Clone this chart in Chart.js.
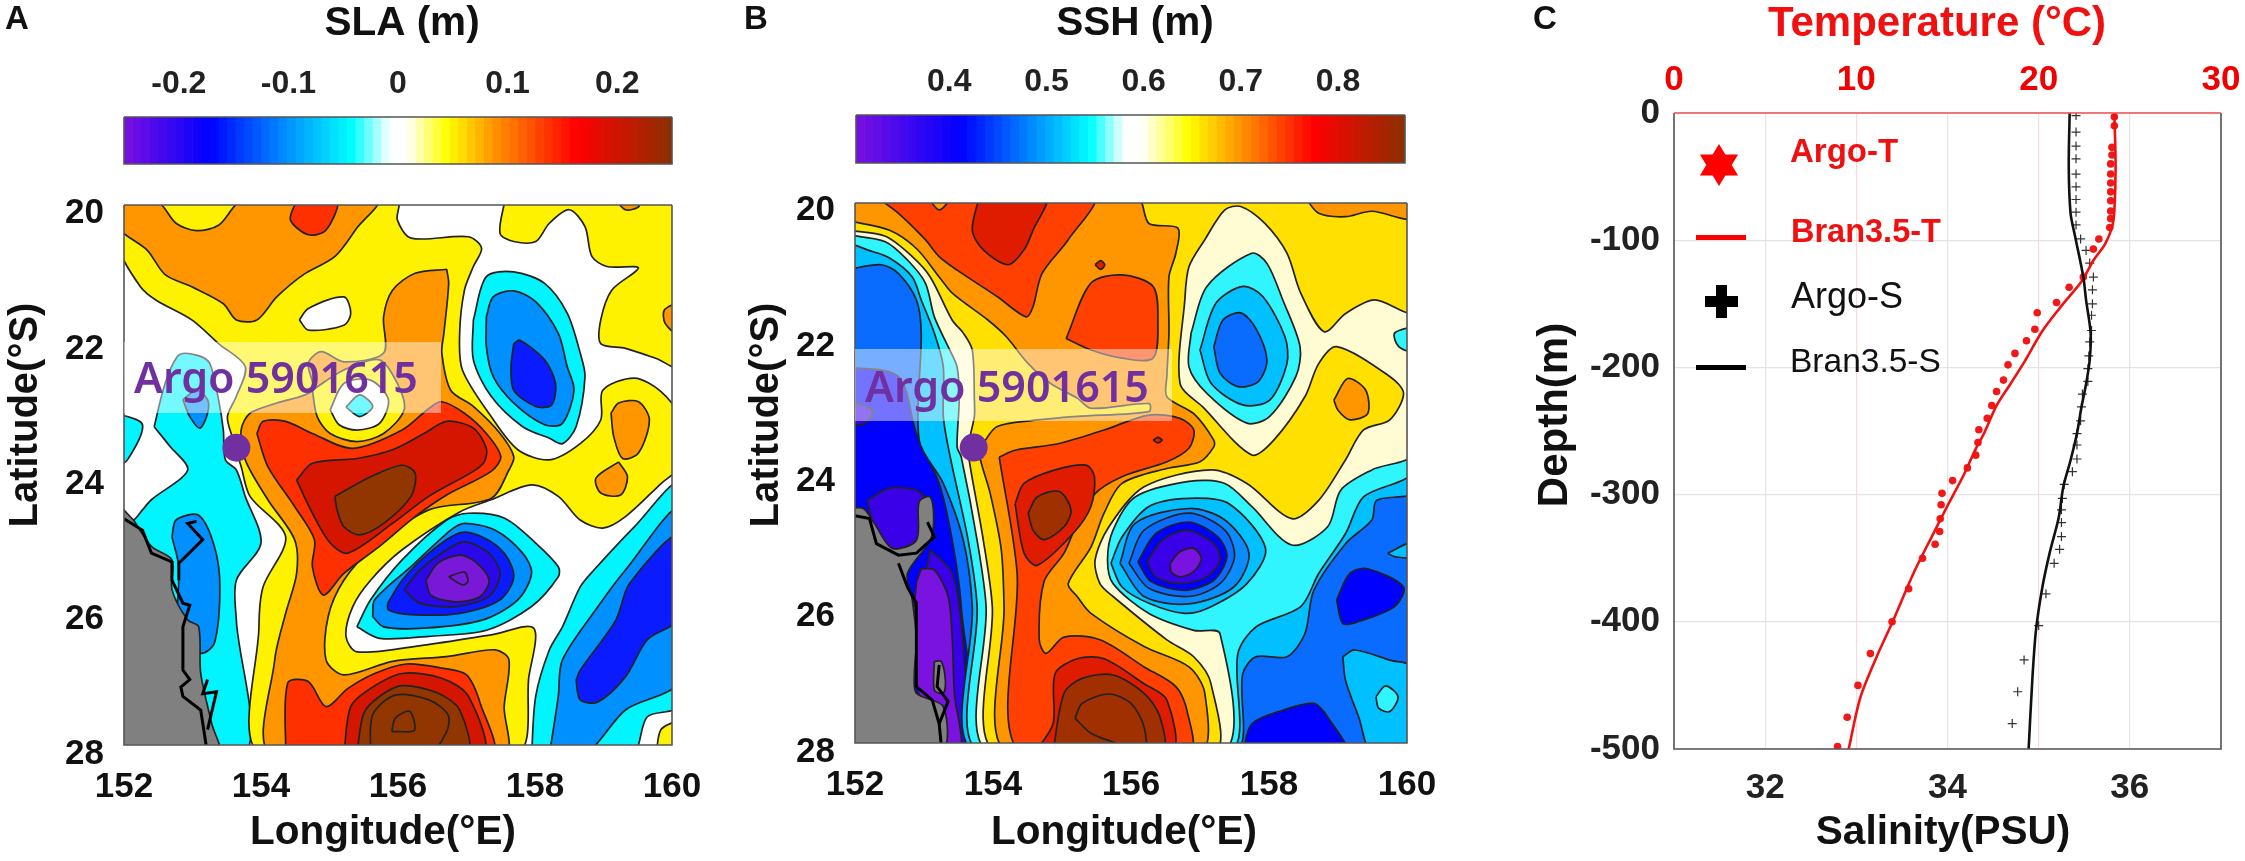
<!DOCTYPE html>
<html><head><meta charset="utf-8">
<script src="https://cdn.jsdelivr.net/npm/chart.js@4"></script>
<style>html,body{margin:0;padding:0;background:#fff;width:2245px;height:861px;overflow:hidden}
canvas{position:absolute;filter:blur(0.7px)}</style></head><body>
<script>
// ---------- axis values ----------
const lonTicks=[152,154,156,158,160];
const latTicks=[20,22,24,26,28];
const slaBarTicks=[-0.2,-0.1,0,0.1,0.2];
const sshBarTicks=[0.4,0.5,0.6,0.7,0.8];
const salinityTicks=[32,34,36];
const temperatureTicks=[0,10,20,30];
const depthTicks=[0,-100,-200,-300,-400,-500];
// ---------- colour map stops (fraction, colour) ----------
const slaStops=[[0,'#7a10e0'],[0.155,'#0000ff'],[0.28,'#0080ff'],[0.416,'#00ffff'],[0.47,'#c8ffff'],[0.485,'#ffffff'],[0.515,'#ffffff'],[0.588,'#ffff00'],[0.67,'#ff9900'],[0.825,'#ff0000'],[1,'#8b3000']];
const sshStops=[[0,'#7a10e0'],[0.19,'#0000ff'],[0.31,'#0080ff'],[0.427,'#00ffff'],[0.475,'#c8ffff'],[0.49,'#ffffff'],[0.52,'#ffffff'],[0.605,'#ffff00'],[0.695,'#ff9900'],[0.833,'#ff0000'],[1,'#8b3000']];
// ---------- panel C profiles [value, depth] ----------
const argoT=[[24.15,-3],[24.15,-10],[24.02,-27],[24.02,-33],[23.95,-40],[23.95,-48],[23.95,-55],[23.95,-62],[23.95,-69],[23.95,-77],[23.95,-83],[23.9,-90],[23.3,-99],[23.0,-107],[22.45,-129],[21.67,-137],[20.98,-149],[19.92,-157],[19.79,-170],[19.33,-179],[18.7,-189],[18.32,-198],[18.07,-210],[17.69,-219],[17.43,-230],[17.18,-240],[16.72,-249],[16.67,-259],[16.55,-269],[16.09,-279],[15.28,-289],[14.7,-299],[14.65,-308],[14.6,-319],[14.57,-329],[14.32,-339],[13.63,-350],[12.87,-374],[11.96,-400],[10.77,-425],[10.09,-450],[9.5,-475],[8.97,-498]];
const branT=[[24.15,0],[24.22,-42],[24.15,-77],[24.02,-90],[23.64,-103],[23.0,-116],[22.37,-132],[21.23,-152],[20.22,-171],[19.2,-196],[18.45,-213],[17.69,-230],[17.0,-252],[16.55,-264],[15.91,-284],[15.03,-308],[14.14,-333],[13.13,-362],[11.99,-400],[11.1,-428],[10.21,-460],[9.58,-500]];
const argoS=[[35.41,-2],[35.41,-15],[35.41,-26],[35.41,-36],[35.41,-48],[35.41,-58],[35.41,-68],[35.41,-78],[35.41,-88],[35.46,-99],[35.52,-108],[35.56,-118],[35.6,-129],[35.59,-139],[35.59,-150],[35.58,-159],[35.58,-171],[35.56,-180],[35.55,-191],[35.54,-201],[35.54,-211],[35.48,-221],[35.47,-231],[35.46,-242],[35.42,-252],[35.42,-261],[35.42,-272],[35.37,-282],[35.28,-292],[35.26,-303],[35.25,-312],[35.25,-322],[35.25,-333],[35.23,-343],[35.17,-354],[35.08,-378],[35.0,-403],[34.84,-430],[34.77,-455],[34.71,-480]];
const branS=[[35.34,0],[35.33,-42],[35.35,-79],[35.4,-97],[35.49,-129],[35.52,-147],[35.57,-173],[35.56,-194],[35.52,-213],[35.47,-231],[35.42,-252],[35.35,-273],[35.27,-294],[35.22,-318],[35.12,-346],[35.04,-373],[34.97,-407],[34.93,-446],[34.89,-500]];
// ---------- Argo float position ----------
const argoPosA=[[153.64,23.46]];
const argoPosB=[[153.72,23.5]];
// ---------- panel A contours [lon, lat] ----------
const aYellowMain=[[151.9,19.8],[155.99,19.8],[155.99,20.09],[156.19,20.36],[157.03,20.34],[157.22,20.51],[157.10,20.78],[156.97,21.13],[156.90,21.77],[156.94,22.31],[157.36,23.0],[157.75,23.49],[158.21,23.64],[158.66,23.40],[158.96,23.05],[158.99,22.61],[159.45,22.43],[159.84,22.63],[160.1,23.0],[160.1,23.74],[159.84,23.99],[159.32,24.48],[158.99,24.65],[158.66,24.53],[158.34,24.18],[157.95,24.01],[157.36,24.23],[156.90,24.41],[156.06,24.97],[155.60,25.42],[155.34,25.81],[155.24,26.25],[155.40,26.48],[156.38,26.38],[157.36,26.23],[157.98,26.13],[157.91,26.85],[157.72,28],[154.0,28],[153.97,26.11],[154.03,25.52],[154.36,24.78],[153.84,24.18],[153.71,23.74],[153.58,23.30],[153.51,23.0],[153.64,22.70],[153.77,22.26],[153.38,21.92],[152.99,21.57],[152.47,21.28],[152.24,21.08],[151.9,20.46]];
const aYellowTR=[[157.56,19.8],[157.49,20.29],[157.69,20.41],[158.01,20.41],[158.21,20.14],[158.50,19.94],[158.73,20.19],[158.83,20.63],[159.05,20.78],[159.51,20.80],[159.12,21.13],[158.96,21.57],[158.96,21.92],[159.32,21.99],[159.77,22.14],[160.1,22.26],[160.1,19.8]];
const aYellowBR=[[159.77,28],[159.84,27.63],[160.1,27.53],[160.1,28]];
const aWhiteSpot=[[154.56,21.57],[154.69,21.40],[155.21,21.23],[155.31,21.47],[155.21,21.65],[154.69,21.72]];
const aOrangeNW=[[151.9,19.8],[152.47,19.8],[152.76,20.14],[153.06,20.25],[153.38,20.17],[153.74,19.8],[155.70,19.8],[155.40,20.21],[155.08,20.63],[154.62,20.90],[154.23,21.23],[153.94,21.57],[153.64,21.57],[153.45,21.33],[152.99,21.08],[152.60,20.9],[152.34,20.54],[151.9,20.19]];
const aRedTop=[[154.52,19.8],[154.43,20.09],[154.69,20.31],[154.95,20.24],[155.11,19.8]];
const aOrangeTR=[[159.18,19.8],[159.32,19.94],[159.51,19.9],[159.52,19.8]];
const aOrangeCenter=[[156.71,20.82],[156.74,21.03],[156.67,21.77],[156.64,22.06],[156.77,22.61],[157.10,22.85],[157.49,23.25],[157.69,23.59],[157.62,23.79],[157.36,24.21],[156.45,24.38],[155.66,24.92],[155.21,25.42],[154.98,25.96],[154.95,26.60],[155.21,26.82],[155.92,26.62],[156.71,26.55],[157.42,26.45],[157.62,26.60],[157.55,27.29],[157.55,28],[154.16,28],[154.20,26.60],[154.36,25.91],[154.52,25.32],[154.49,24.82],[154.10,24.23],[153.77,23.64],[153.71,23.20],[153.84,22.95],[154.23,22.80],[154.75,22.61],[154.69,22.21],[154.88,22.04],[155.21,22.19],[155.79,22.06],[155.79,21.52],[155.92,21.13],[156.25,20.88]];
const aYellowHole=[[154.75,22.61],[155.21,22.31],[155.73,22.16],[155.99,22.51],[156.09,22.90],[155.79,23.25],[155.40,23.37],[155.01,23.25],[154.82,23.0]];
const aWhiteHole=[[155.01,22.90],[155.21,22.51],[155.60,22.46],[155.86,22.75],[155.73,23.10],[155.40,23.20],[155.14,23.12]];
const aCyanDiamond=[[155.24,22.86],[155.44,22.68],[155.63,22.85],[155.44,23.0]];
const aOrangeR1=[[159.11,22.95],[159.22,22.80],[159.51,22.78],[159.67,23.05],[159.51,23.54],[159.28,23.62],[159.15,23.30]];
const aOrangeR2=[[159.22,23.67],[159.35,23.89],[159.25,24.16],[158.96,24.13],[158.89,23.91]];
const aOrangeR3=[[160.1,21.3],[159.89,21.42],[159.90,21.62],[160.1,21.79]];
const aRedMain=[[153.94,23.25],[154.03,23.07],[154.36,23.07],[154.75,23.25],[155.34,23.47],[156.06,23.20],[156.45,22.88],[156.64,22.78],[156.97,22.95],[157.29,23.25],[157.50,23.59],[157.36,23.81],[156.71,24.16],[156.25,24.48],[155.73,24.92],[155.21,25.32],[154.91,25.64],[154.75,25.22],[154.78,24.82],[154.49,24.33],[154.10,23.74]];
const aRedSouth=[[154.36,28],[154.39,26.94],[154.69,26.92],[154.95,27.29],[155.27,27.02],[155.66,26.80],[156.12,26.66],[156.64,26.72],[157.0,26.82],[157.20,27.24],[157.36,28]];
const aDarkMain=[[154.52,23.94],[154.75,23.69],[155.40,23.62],[155.92,23.49],[156.38,23.25],[156.71,23.07],[157.10,23.17],[157.29,23.47],[157.26,23.67],[157.10,23.81],[156.45,24.18],[155.92,24.58],[155.27,25.02],[155.01,24.87],[154.75,24.43]];
const aDarkSouth=[[155.21,28],[155.31,27.29],[155.60,27.02],[156.06,26.80],[156.64,26.87],[157.03,27.14],[157.23,28]];
const aBrownMain=[[155.08,24.18],[155.60,23.89],[156.06,23.72],[156.25,23.84],[156.19,24.18],[155.79,24.58],[155.44,24.75],[155.21,24.63],[155.11,24.38]];
const aBrownSouth=[[155.40,28],[155.50,27.39],[155.73,27.14],[156.06,26.98],[156.58,27.09],[156.90,27.34],[157.0,28]];
const aBrownSouth2=[[155.60,28],[155.63,27.41],[155.96,27.12],[156.45,27.19],[156.73,27.41],[156.71,27.66],[156.45,28]];
const aBrownSouth3=[[155.91,27.66],[155.96,27.46],[156.17,27.36],[156.24,27.64],[155.99,27.66]];
const aE1Cyan=[[157.10,21.57],[157.29,20.93],[157.69,20.86],[158.14,21.03],[158.47,21.47],[158.66,22.06],[158.73,22.41],[158.60,23.15],[158.40,23.40],[158.21,23.32],[157.82,23.15],[157.36,22.70],[157.10,22.16]];
const aE1Azure=[[157.29,21.52],[157.39,21.23],[157.69,21.14],[158.01,21.30],[158.34,21.77],[158.47,22.26],[158.57,22.61],[158.40,23.10],[158.14,23.12],[157.69,22.80],[157.39,22.41],[157.29,21.97]];
const aE1Blue=[[157.69,21.92],[157.78,21.87],[158.14,22.16],[158.30,22.51],[158.24,22.83],[158.01,22.85],[157.69,22.61],[157.65,22.26]];
const aE2Cyan=[[155.40,26.11],[155.60,25.71],[156.06,25.12],[156.71,24.53],[157.03,24.43],[157.55,24.50],[158.01,24.87],[158.34,25.22],[158.34,25.37],[157.95,25.81],[157.29,26.16],[156.45,26.25],[155.73,26.28]];
const aE2Azure=[[155.63,25.96],[155.66,25.71],[156.19,25.22],[156.77,24.68],[156.97,24.58],[157.42,24.68],[157.82,25.02],[157.95,25.32],[157.75,25.71],[157.23,26.01],[156.38,26.13],[155.79,26.11]];
const aE2Blue=[[155.85,25.76],[156.06,25.42],[156.45,25.02],[156.90,24.72],[157.23,24.78],[157.55,25.02],[157.69,25.37],[157.49,25.71],[156.90,25.91],[156.19,25.93],[155.86,25.86]];
const aE2Deep=[[156.09,25.56],[156.32,25.27],[156.71,24.97],[156.97,24.85],[157.33,25.02],[157.49,25.32],[157.33,25.66],[156.84,25.81],[156.32,25.76]];
const aE2Purple=[[156.41,25.42],[156.58,25.17],[156.90,25.05],[157.13,25.15],[157.33,25.42],[157.20,25.66],[156.84,25.74],[156.48,25.64]];
const aE2Core=[[156.74,25.37],[156.97,25.30],[157.02,25.44],[156.94,25.49]];
const aCyanE=[[157.95,28],[158.01,27.14],[158.21,26.45],[158.40,26.11],[158.66,25.52],[158.86,25.27],[159.45,24.63],[160.1,24.01],[160.1,27.27],[159.64,27.44],[159.41,28]];
const aAzureE=[[158.21,28],[158.34,27.14],[158.40,26.60],[158.92,25.81],[159.32,25.27],[160.1,24.38],[160.1,26.90],[159.32,27.34],[158.73,28]];
const aBlueE=[[158.60,26.90],[158.66,26.75],[159.18,26.01],[159.38,25.47],[160.1,24.75],[160.1,25.98],[159.64,26.30],[159.32,26.85],[158.92,27.22],[158.66,27.19]];
const aCyanW=[[152.44,23.15],[152.60,22.51],[152.80,22.09],[153.06,22.09],[153.25,22.21],[153.38,22.75],[153.45,23.20],[153.48,23.64],[153.64,23.79],[153.77,24.18],[154.0,24.87],[153.64,25.42],[153.64,26.01],[153.76,28],[151.9,28],[151.9,24.6],[152.14,24.53],[152.27,24.38],[152.40,24.23],[152.93,23.79],[152.67,23.44]];
const aCyanEdge=[[151.9,22.95],[152.27,23.12],[152.05,23.64],[151.9,23.7]];
const aAzureLens=[[152.86,22.75],[153.06,22.61],[153.22,22.75],[153.22,22.95],[153.11,23.17],[152.96,23.0]];
const aAzureW=[[152.70,24.78],[152.76,24.53],[153.09,24.46],[153.32,24.92],[153.40,25.52],[153.32,26.35],[153.12,26.50],[152.80,26.21],[152.80,25.22]];
const aLand=[[152.14,24.53],[152.40,24.92],[152.70,25.12],[152.70,25.56],[152.93,26.01],[153.09,26.11],[153.12,26.80],[153.28,27.54],[153.38,28],[151.9,28],[151.9,24.33]];
const aCoast1=[[152.0,24.51],[152.27,24.68],[152.40,25.02],[152.70,25.15],[152.70,25.42],[152.86,25.76],[152.96,25.79],[152.86,26.11],[152.86,26.75],[152.96,26.89],[152.83,27.0],[152.86,27.14],[153.12,27.34],[153.22,28]];
const aCoast2=[[152.80,25.42],[152.80,25.17],[153.15,24.82],[152.93,24.58],[153.06,24.55]];
const aCoast3=[[153.22,26.89],[153.15,27.1],[153.35,27.07],[153.22,27.63]];
// ---------- panel B contours [lon, lat] ----------
const bBase=[[151.9,19.8],[160.1,19.8],[160.1,28],[151.9,28]];
const bAzure=[[151.9,20.87],[151.9,19.8],[160.1,19.8],[160.1,24.13],[159.56,24.28],[159.49,24.57],[159.11,24.92],[158.65,25.61],[158.52,26.25],[158.26,26.59],[157.81,26.59],[157.62,26.84],[157.49,28],[153.73,28],[153.70,25.85],[153.57,24.87],[153.28,24.03],[152.93,23.39],[152.96,21.81],[152.89,21.32],[152.63,20.93],[152.38,20.80]];
const bCyan=[[151.9,20.47],[151.9,19.8],[160.1,19.8],[160.1,23.81],[159.37,24.23],[159.11,24.77],[158.72,25.36],[158.46,25.85],[157.81,26.15],[157.55,26.54],[157.42,28],[153.80,28],[153.77,25.85],[153.64,24.87],[153.38,23.64],[153.28,23.04],[153.28,22.31],[153.15,21.81],[152.96,21.32],[152.83,20.98],[152.50,20.70],[152.18,20.58]];
const bPale=[[151.9,20.36],[151.9,19.8],[160.1,19.8],[160.1,23.56],[159.49,23.83],[159.04,24.13],[158.85,24.67],[158.33,24.94],[157.75,24.37],[157.36,24.03],[156.84,24.0],[156.06,24.23],[155.74,24.72],[155.66,25.16],[155.74,25.51],[156.26,25.95],[156.91,26.2],[157.29,26.25],[157.33,28],[153.93,28],[153.90,25.85],[153.77,24.87],[153.54,23.64],[153.48,23.49],[153.51,22.80],[153.48,22.31],[153.35,22.01],[153.15,21.57],[153.02,21.07],[152.76,20.73],[152.44,20.46]];
const bGold=[[151.9,20.29],[151.9,19.8],[160.1,19.8],[160.1,21.49],[159.53,21.32],[159.11,21.52],[158.80,21.79],[158.46,21.22],[158.26,20.63],[157.94,20.19],[157.59,19.94],[157.36,19.99],[157.07,20.43],[156.84,20.83],[156.78,21.32],[156.71,22.55],[157.04,22.90],[157.75,23.61],[158.07,23.39],[158.52,22.75],[158.72,22.26],[158.98,22.01],[159.75,22.45],[159.95,22.70],[159.75,23.09],[159.37,23.24],[159.11,23.68],[158.72,24.28],[158.33,24.55],[157.68,24.03],[157.16,23.83],[156.19,24.08],[155.68,24.67],[155.48,25.16],[155.55,25.51],[155.74,25.70],[156.52,26.34],[156.91,26.59],[157.16,26.99],[157.20,28],[154.03,28],[153.99,25.85],[153.86,24.87],[153.67,23.78],[153.64,23.49],[153.73,23.04],[153.73,22.80],[153.70,22.06],[153.57,21.81],[153.41,21.62],[153.09,20.98],[152.83,20.68],[152.44,20.38]];
const bOrange=[[151.9,20.15],[151.9,19.8],[156.08,19.8],[156.26,20.19],[156.68,20.26],[156.65,20.63],[156.55,20.98],[156.55,21.81],[156.52,22.45],[156.52,22.75],[156.91,23.0],[157.20,23.39],[157.20,23.49],[157.0,23.71],[156.52,23.81],[155.87,24.03],[155.61,24.47],[155.42,24.97],[155.09,25.51],[155.22,25.70],[155.42,25.95],[156.19,26.44],[156.84,26.74],[157.07,27.13],[157.0,28],[154.19,28],[154.16,25.85],[154.12,25.01],[153.96,24.18],[153.80,23.59],[153.86,23.44],[154.06,23.19],[154.58,23.10],[155.22,23.04],[156.26,22.97],[156.26,22.85],[155.42,22.92],[155.22,22.77],[154.83,22.55],[154.51,22.26],[154.19,21.86],[153.93,21.62],[153.41,21.22],[153.22,20.98],[152.89,20.56],[152.50,20.29]];
const bOrangeTR=[[158.52,19.8],[158.72,20.04],[159.11,20.09],[159.49,20.01],[160.1,20.13],[160.1,19.8]];
const bOrangeSpot=[[158.94,22.80],[159.14,22.48],[159.40,22.65],[159.43,23.0],[159.17,23.09],[159.0,22.95]];
const bCyanEdge=[[160.1,21.71],[159.82,21.81],[159.88,22.01],[160.1,22.08]];
const bRedNW=[[152.31,19.8],[152.63,20.04],[153.02,20.43],[153.22,20.68],[153.48,20.88],[154.06,21.27],[154.48,21.57],[154.58,21.42],[154.71,20.93],[155.09,20.43],[155.45,19.8]];
const bOrangeInlet=[[153.05,19.8],[153.22,19.99],[153.38,19.8]];
const bDarkNW=[[153.80,19.8],[153.70,20.29],[153.86,20.58],[154.22,20.80],[154.45,20.58],[154.58,20.29],[154.77,19.8]];
const bDiamond=[[155.48,20.80],[155.56,20.74],[155.62,20.80],[155.56,20.87]];
const bRedCenter=[[155.06,21.89],[155.42,21.07],[155.87,20.95],[156.32,21.12],[156.39,21.62],[156.32,22.18],[155.87,22.18],[155.42,22.06]];
const bRedSouth=[[154.09,23.64],[154.32,23.54],[154.96,23.44],[155.61,23.24],[156.26,23.02],[156.71,23.07],[156.91,23.24],[156.84,23.51],[156.52,23.71],[155.87,23.93],[155.48,24.18],[155.22,24.62],[155.03,25.06],[154.74,25.48],[154.67,26.34],[154.77,26.54],[155.03,26.30],[155.55,26.34],[156.19,26.74],[156.65,27.03],[156.81,27.38],[156.84,28],[154.38,28],[154.35,25.36]];
const bDarkDot=[[156.32,23.39],[156.39,23.35],[156.45,23.39],[156.39,23.43]];
const bDarkMid=[[154.32,24.33],[154.45,24.03],[154.90,23.83],[155.35,23.76],[155.47,23.93],[155.42,24.37],[155.16,24.77],[154.64,25.24],[154.45,25.06]];
const bBrownMid=[[154.51,24.47],[154.64,24.23],[154.96,24.15],[155.13,24.42],[155.03,24.67],[154.74,24.86],[154.58,24.72]];
const bDarkS=[[154.61,28],[154.87,27.58],[154.90,26.84],[155.22,26.62],[155.61,26.62],[156.19,26.99],[156.52,27.23],[156.58,28]];
const bBrownS=[[154.87,28],[155.03,27.13],[155.29,26.91],[155.74,26.86],[156.19,27.13],[156.42,27.48],[156.45,28]];
const bBrownS2=[[155.19,27.50],[155.29,27.28],[155.68,27.14],[156.0,27.28],[156.19,27.63],[156.19,28],[155.74,27.85],[155.42,27.72]];
const bE3Cyan=[[156.87,21.81],[157.10,21.12],[157.75,20.63],[157.97,20.78],[158.20,21.32],[158.45,22.01],[158.39,22.45],[158.01,23.04],[157.68,23.14],[157.10,22.70],[156.84,22.31]];
const bE3Azure=[[157.0,22.06],[157.23,21.37],[157.62,21.12],[157.91,21.27],[158.23,21.86],[158.26,22.26],[158.01,22.80],[157.62,22.87],[157.16,22.55]];
const bE3Blue=[[157.20,22.01],[157.33,21.62],[157.59,21.51],[157.81,21.74],[157.97,22.21],[157.84,22.53],[157.55,22.60],[157.29,22.40]];
const bE4R1=[[155.71,25.21],[155.87,24.82],[156.26,24.37],[156.84,24.25],[157.42,24.33],[157.95,24.99],[157.68,25.51],[157.16,25.85],[156.78,25.95],[156.26,25.80],[155.87,25.56]];
const bE4R2=[[155.84,25.21],[156.06,24.62],[156.84,24.40],[157.36,24.57],[157.71,25.06],[157.49,25.56],[156.84,25.81],[156.19,25.70]];
const bE4R3=[[155.97,25.21],[156.19,24.72],[156.84,24.47],[157.36,24.72],[157.50,25.11],[157.29,25.51],[156.84,25.70],[156.26,25.58]];
const bE4R4=[[156.10,25.19],[156.36,24.77],[156.84,24.60],[157.26,24.82],[157.39,25.11],[157.20,25.46],[156.78,25.61],[156.29,25.48]];
const bE4R5=[[156.23,25.19],[156.45,24.87],[156.81,24.72],[157.20,24.92],[157.29,25.16],[157.10,25.41],[156.71,25.51],[156.36,25.41]];
const bE4R6=[[156.57,25.21],[156.71,25.04],[156.91,24.99],[157.02,25.14],[156.91,25.33],[156.71,25.41],[156.58,25.33]];
const bBlueLens=[[158.98,25.75],[159.17,25.36],[159.43,25.29],[159.95,25.56],[159.82,25.85],[159.30,26.07],[159.07,26.10]];
const bAzureSE=[[159.07,26.59],[159.24,26.49],[159.75,26.64],[160.1,26.76],[160.1,28],[159.49,28],[159.30,27.48],[159.11,26.94]];
const bCyanSE=[[159.55,27.18],[159.69,27.02],[159.87,27.18],[159.75,27.40],[159.59,27.35]];
const bAzureSmall=[[159.72,25.06],[160.1,24.89],[160.1,25.12],[159.82,25.11]];
const bBlueS=[[157.62,28],[157.75,27.58],[158.20,27.38],[158.65,27.28],[158.85,27.48],[159.11,28]];
const bBlueW=[[151.9,22.31],[152.63,22.45],[152.89,23.29],[153.22,24.03],[153.41,24.87],[153.54,25.85],[153.61,28],[151.9,28]];
const bVioletLens=[[152.18,24.28],[152.50,24.10],[152.89,24.13],[153.02,24.28],[152.89,24.87],[152.54,24.99],[152.28,24.67]];
const bVioletCoast=[[153.09,25.01],[153.41,25.36],[153.57,26.44],[153.59,28],[153.22,28],[152.89,26.25]];
const bPurpleCoast=[[152.96,25.29],[153.15,25.31],[153.35,25.70],[153.41,26.34],[153.44,27.13],[153.54,28],[153.22,28],[152.83,26.64],[152.89,25.51]];
const bVioletSpot=[[151.9,22.80],[152.25,22.95],[152.15,23.14],[151.9,23.14]];
const bLand=[[151.9,24.40],[152.12,24.40],[152.28,24.62],[152.54,24.99],[152.89,24.87],[152.93,24.30],[153.09,24.23],[153.14,24.57],[153.09,24.87],[152.76,25.36],[152.83,25.75],[152.89,26.34],[152.86,26.84],[152.89,27.13],[153.28,27.33],[153.25,28],[151.9,28]];
const bLandPatch=[[153.15,26.66],[153.25,26.66],[153.31,26.94],[153.28,27.13],[153.15,27.08]];
const bCoast1=[[151.96,24.50],[152.21,24.55],[152.31,24.92],[152.63,25.09],[152.89,25.06],[153.15,24.82],[153.05,24.60]];
const bCoast2=[[152.63,25.21],[152.76,25.56],[152.89,25.80],[152.89,26.44],[152.89,27.03],[153.12,27.23],[153.22,27.58],[153.26,28]];
const bCoast3=[[153.22,26.71],[153.19,27.03],[153.35,27.25],[153.22,27.58]];

// ---------- styles ----------
const A={y:'#fff200',o:'#ff9600',r:'#ff3000',d:'#d41500',b:'#923600',c:'#00f5ff',z:'#0090ff',u:'#0a1cff',v:'#2a08ea',p:'#7a18d8',w:'#ffffff',g:'#808080'};
const B={pale:'#fffbd2',y:'#ffe000',o:'#ff9600',r:'#ff4000',d:'#e01c00',b:'#a03000',c:'#30f5ff',z:'#00c0ff',a:'#0a6cff',m:'#0a8cff',u:'#0000ff',v:'#3a00e8',p:'#7a12e0',g:'#808080'};
const panelALayers=[[aCyanW,A.c],[aCyanEdge,A.c],[aAzureLens,A.z],[aAzureW,A.z],[aYellowMain,A.y],[aYellowTR,A.y],[aYellowBR,A.y],[aWhiteSpot,A.w],[aOrangeNW,A.o],[aRedTop,A.r],[aOrangeTR,A.o],[aOrangeCenter,A.o],[aYellowHole,A.y],[aWhiteHole,A.w],[aCyanDiamond,A.c],[aOrangeR1,A.o],[aOrangeR2,A.o],[aOrangeR3,A.o],[aRedMain,A.r],[aRedSouth,A.r],[aDarkMain,A.d],[aDarkSouth,A.d],[aBrownMain,A.b],[aBrownSouth,A.b],[aBrownSouth2,A.b],[aBrownSouth3,A.b],[aE1Cyan,A.c],[aE1Azure,A.z],[aE1Blue,A.u],[aE2Cyan,A.c],[aE2Azure,A.z],[aE2Blue,A.u],[aE2Deep,A.v],[aE2Purple,A.p],[aE2Core,A.p],[aCyanE,A.c],[aAzureE,A.z],[aBlueE,A.u],[aLand,A.g]];
const panelBLayers=[[bBase,B.a],[bBlueW,B.u],[bVioletSpot,B.v],[bVioletLens,B.v],[bVioletCoast,B.v],[bPurpleCoast,B.p],[bAzure,B.z],[bCyan,B.c],[bPale,B.pale],[bGold,B.y],[bOrange,B.o],[bOrangeTR,B.o],[bOrangeSpot,B.o],[bCyanEdge,B.c],[bRedNW,B.r],[bOrangeInlet,B.o],[bDarkNW,B.d],[bDiamond,B.d],[bRedCenter,B.r],[bRedSouth,B.r],[bDarkDot,B.d],[bDarkMid,B.d],[bBrownMid,B.b],[bDarkS,B.d],[bBrownS,B.b],[bBrownS2,B.b],[bE3Cyan,B.c],[bE3Azure,B.z],[bE3Blue,B.a],[bE4R1,B.z],[bE4R2,B.m],[bE4R3,B.a],[bE4R4,B.u],[bE4R5,B.v],[bE4R6,B.p],[bBlueLens,B.u],[bAzureSE,B.z],[bCyanSE,B.c],[bAzureSmall,B.z],[bBlueS,B.u],[bLand,B.g],[bLandPatch,B.g]];

const FONT='"Liberation Sans", Arial, sans-serif';
const tickFont=s=>({family:FONT,size:s,weight:'bold'});
const pts=a=>a.map(p=>({x:p[0],y:p[1]}));
function setTicks(values){return s=>{s.ticks=values.map(v=>({value:v}));};}
function fixed(prop,val){return s=>{s[prop]=val;s.paddingTop=0;s.paddingBottom=0;s.paddingLeft=0;s.paddingRight=0;};}
function hexToRgb(h){return [1,3,5].map(i=>parseInt(h.substr(i,2),16));}
function rampColor(stops,f){for(let i=1;i<stops.length;i++){if(f<=stops[i][0]){const t=(f-stops[i-1][0])/(stops[i][0]-stops[i-1][0]||1),a=hexToRgb(stops[i-1][1]),b=hexToRgb(stops[i][1]);return 'rgb('+a.map((c,k)=>Math.round(c+(b[k]-c)*t)).join(',')+')';}}return stops[stops.length-1][1];}

function place(left,top,w,h){const c=document.createElement('canvas');c.width=w;c.height=h;c.style.left=left+'px';c.style.top=top+'px';c.style.width=w+'px';c.style.height=h+'px';document.body.appendChild(c);return c;}

function textPlugin(items,ox,oy){return {id:'pageText',afterDraw(chart){const ctx=chart.ctx;for(const t of items){ctx.save();ctx.translate(t.x-ox,t.y-oy);if(t.rot)ctx.rotate(t.rot);ctx.font=(t.weight||'bold')+' '+t.size+'px '+(t.family||FONT);ctx.fillStyle=t.color||'#111';ctx.textAlign=t.align||'center';ctx.textBaseline='middle';ctx.fillText(t.text,0,0);ctx.restore();}}};}
function framePlugin(topColor){return {id:'frame',afterDatasetsDraw(chart){const c=chart.ctx,a=chart.chartArea;c.save();c.lineWidth=1.6;c.strokeStyle='#555';c.beginPath();c.moveTo(a.left,a.top);c.lineTo(a.left,a.bottom);c.lineTo(a.right,a.bottom);c.lineTo(a.right,a.top);c.stroke();c.strokeStyle=topColor||'#555';c.beginPath();c.moveTo(a.left,a.top);c.lineTo(a.right,a.top);c.stroke();c.restore();}};}
function argoPlugin(box,tx,ty){return {id:'argoLabel',afterDatasetsDraw(chart){const c=chart.ctx,o=chart.canvas,ox=parseFloat(o.style.left),oy=parseFloat(o.style.top);c.save();c.fillStyle='rgba(255,255,255,0.45)';c.fillRect(box[0]-ox,box[1]-oy,box[2]-box[0],box[3]-box[1]);c.fillStyle='#7030a0';c.font='600 43px "Noto Sans", sans-serif';c.textBaseline='alphabetic';c.fillText('Argo 5901615',tx-ox,ty-oy);c.restore();}};}

function colorBar(left,w,barL,barR,barTop,barBottom,min,max,ticks,stops,texts){
  const N=64,canvas=place(left,0,w,barBottom+6),ds=[];
  for(let i=0;i<N;i++){const lo=min+(max-min)*i/N,hi=min+(max-min)*(i+1)/N;ds.push({data:[[lo,hi]],backgroundColor:rampColor(stops,(i+0.5)/N),borderWidth:0});}
  new Chart(canvas,{type:'bar',data:{labels:['scale'],datasets:ds},plugins:[framePlugin(),textPlugin(texts,left,0)],options:{
    indexAxis:'y',responsive:false,animation:false,events:[],layout:{autoPadding:false,padding:{left:barL-left,right:left+w-barR,bottom:6,top:0}},
    datasets:{bar:{grouped:false,barPercentage:1,categoryPercentage:1}},
    plugins:{legend:{display:false},tooltip:{enabled:false}},
    scales:{y:{display:false},x:{position:'top',min,max,afterBuildTicks:setTicks(ticks),afterFit:fixed('height',barTop),
      grid:{display:false},border:{display:false},
      ticks:{autoSkip:false,maxRotation:0,padding:6,color:'#222',font:tickFont(32),callback:v=>String(v)}}}}});
}

function contourPanel(left,top,w,h,areaL,areaR,areaT,areaB,latMin,latMax,layers,coasts,argoPos,box,tx,ty,texts){
  const canvas=place(left,top,w,h),ds=[];
  layers.forEach(l=>{ds.push({data:pts(l[0].concat([l[0][0]])),showLine:true,fill:'shape',backgroundColor:l[1],borderColor:'#222',borderWidth:1.7,tension:0.3,pointRadius:0});});
  coasts.forEach(c=>{ds.push({data:pts(c),showLine:true,fill:false,borderColor:'#000',borderWidth:3,tension:0,pointRadius:0});});
  ds.push({data:pts(argoPos),pointRadius:14,pointBackgroundColor:'#7030a0',pointBorderWidth:0,showLine:false});
  ds.forEach((d,i)=>{d.order=ds.length-i;});
  new Chart(canvas,{type:'scatter',data:{datasets:ds},plugins:[framePlugin(),argoPlugin(box,tx,ty),textPlugin(texts,left,top)],options:{
    responsive:false,animation:false,events:[],layout:{autoPadding:false,padding:{left:0,top:areaT-top,right:left+w-areaR,bottom:0}},
    plugins:{legend:{display:false},tooltip:{enabled:false}},
    scales:{
      x:{type:'linear',min:152,max:160,afterBuildTicks:setTicks(lonTicks),afterFit:fixed('height',top+h-areaB),grid:{display:false},border:{display:false},
        ticks:{autoSkip:false,maxRotation:0,padding:13,color:'#111',font:tickFont(35),callback:v=>String(v)}},
      y:{type:'linear',reverse:true,min:latMin,max:latMax,afterBuildTicks:setTicks(latTicks),afterFit:fixed('width',areaL-left),grid:{display:false},border:{display:false},
        ticks:{autoSkip:false,padding:12,color:'#111',font:tickFont(35),callback:v=>String(v)}}}}});
}

const titleSize=40.5;
// Panel A
colorBar(0,700,124,672,117,164,-0.25,0.25,slaBarTicks,slaStops,[
  {text:'A',x:17,y:20,size:33},
  {text:'SLA (m)',x:402,y:24,size:titleSize}]);
contourPanel(0,190,715,671,124,672,205,745,19.87,27.858,panelALayers,[aCoast1,aCoast2,aCoast3],argoPosA,[124,342,441,413],134,393,[
  {text:'Longitude(°E)',x:383,y:833,size:titleSize},
  {text:'Latitude(°S)',x:26,y:415,size:40,rot:-Math.PI/2}]);
// Panel B
colorBar(720,730,856,1405,115,163,0.304,0.869,sshBarTicks,sshStops,[
  {text:'B',x:756,y:20,size:33},
  {text:'SSH (m)',x:1135,y:24,size:titleSize}]);
contourPanel(720,190,770,671,855,1407,203,743,19.888,27.864,panelBLayers,[bCoast1,bCoast2,bCoast3],argoPosB,[855,349,1172,421],865,402,[
  {text:'Longitude(°E)',x:1124,y:833,size:titleSize},
  {text:'Latitude(°S)',x:767,y:415,size:40,rot:-Math.PI/2}]);
// Panel C
const legendMarks={id:'legendMarks',afterDatasetsDraw(chart){const c=chart.ctx,ox=1520;c.save();
  c.fillStyle='#ff0000';const sx=1719-ox,sy=165,R=21;
  [-1,1].forEach(q=>{c.beginPath();for(let i=0;i<3;i++){const a=q*Math.PI/2+i*2*Math.PI/3;const px=sx+R*Math.cos(a)*1.05,py=sy+R*Math.sin(a);i?c.lineTo(px,py):c.moveTo(px,py);}c.closePath();c.fill();});
  c.fillRect(1696-ox,235,50,5);
  c.fillStyle='#000';c.fillRect(1716-ox,285,11,33);c.fillRect(1705-ox,296,33,11);c.fillRect(1696-ox,365,50,5);
  c.restore();}};
const panelC=place(1520,0,725,861);
new Chart(panelC,{type:'scatter',data:{datasets:[
  {data:pts(branT),xAxisID:'xT',showLine:true,borderColor:'#f01010',borderWidth:2.6,tension:0.3,pointRadius:0,order:2},
  {data:pts(branS),xAxisID:'x',showLine:true,borderColor:'#111',borderWidth:2.6,tension:0.3,pointRadius:0,order:1},
  {data:pts(argoT),xAxisID:'xT',showLine:false,pointStyle:'circle',pointRadius:3.8,pointBackgroundColor:'#f01818',pointBorderWidth:0,order:3},
  {data:pts(argoS),xAxisID:'x',showLine:false,pointStyle:'cross',pointRadius:4.5,pointBorderColor:'#333',pointBorderWidth:1.2,order:4}
]},plugins:[framePlugin('#f05050'),legendMarks,textPlugin([
  {text:'C',x:1545,y:20,size:33},
  {text:'Temperature (°C)',x:1937,y:24,size:42,color:'#f01010'},
  {text:'Salinity(PSU)',x:1943,y:833,size:titleSize},
  {text:'Depth(m)',x:1555,y:415,size:42,rot:-Math.PI/2},
  {text:'Argo-T',x:1790,y:153,size:33,align:'left',color:'#f01010'},
  {text:'Bran3.5-T',x:1791,y:233,size:32.5,align:'left',color:'#f01010'},
  {text:'Argo-S',x:1791,y:298,size:36,align:'left',weight:'normal'},
  {text:'Bran3.5-S',x:1790,y:363,size:33.5,align:'left',weight:'normal'}
],1520,0)],options:{responsive:false,animation:false,events:[],layout:{autoPadding:false,padding:{left:0,top:0,right:24,bottom:0}},
  plugins:{legend:{display:false},tooltip:{enabled:false}},
  scales:{
    x:{type:'linear',position:'bottom',min:31,max:37,afterBuildTicks:setTicks(salinityTicks),afterFit:fixed('height',112),
      grid:{color:'#e4e4e4',lineWidth:1.2,drawTicks:false},border:{display:false},
      ticks:{autoSkip:false,maxRotation:0,padding:18,color:'#222',font:tickFont(35),callback:v=>String(v)}},
    xT:{type:'linear',position:'top',min:0,max:30,afterBuildTicks:setTicks(temperatureTicks),afterFit:fixed('height',113),
      grid:{color:'#f6dcdc',lineWidth:1.2,drawTicks:false},border:{display:false},
      ticks:{autoSkip:false,maxRotation:0,padding:12,color:'#f00000',font:tickFont(35),callback:v=>String(v)}},
    y:{type:'linear',min:-500,max:0,afterBuildTicks:setTicks(depthTicks),afterFit:fixed('width',154),
      grid:{color:'#e4e4e4',lineWidth:1.2,drawTicks:false},border:{display:false},
      ticks:{autoSkip:false,padding:14,color:'#222',font:tickFont(35),callback:v=>String(v)}}}}});
</script>
</body></html>
